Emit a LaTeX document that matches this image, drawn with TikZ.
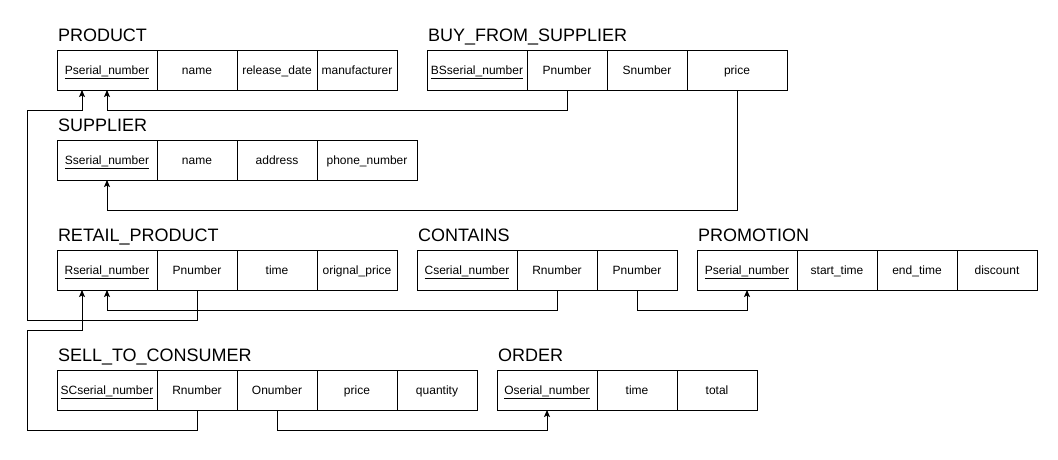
\documentclass[tikz,border=0pt]{standalone}
\usepackage{fontspec}
\setmainfont{Liberation Sans}
\usetikzlibrary{positioning}
\usetikzlibrary{calc}
\usetikzlibrary{arrows.meta}

\tikzset{
	cell/.style={draw, line width=1pt, minimum width=80pt, minimum height=40pt, inner sep=0pt, outer sep=0pt, text height=8.5pt, text depth=0.5pt, font=\fontsize{12}{14}\selectfont},
	key/.style={cell, minimum width=100pt},
	wide/.style={cell, minimum width=100pt},
	ttl/.style={anchor=base west, inner sep=0pt, outer sep=0pt, font=\fontsize{18}{22}\selectfont},
	fk/.style={line width=1pt, -{Stealth[length=7pt,width=6pt,inset=1.5pt]}}
}

\begin{document}
\begin{tikzpicture}[x=1pt,y=-1pt]
	\useasboundingbox (0,0) rectangle (1058,459);
	% PRODUCT
	\node [key] at (107,70) (1Pser) {\underline{Pserial\_number}};
	\node [cell, right=0pt of 1Pser] (1Pname) {name}; \node [cell, right=0pt of 1Pname] (1Prel) {release\_date}; \node [cell, right=0pt of 1Prel] (1Pman) {manufacturer};
	\node [ttl] at ($(1Pser.north west)+(1,-8.5)$) (1title) {PRODUCT};
	% BUY_FROM_SUPPLIER
	\node [key] at (477,70) (2Bser) {\underline{BSserial\_number}};
	\node [cell, right=0pt of 2Bser] (2Bpnum) {Pnumber}; \node [cell, right=0pt of 2Bpnum] (2Bsnum) {Snumber}; \node [wide, right=0pt of 2Bsnum] (2Bprice) {price};
	\node [ttl] at ($(2Bser.north west)+(1,-8.5)$) (2title) {BUY\_FROM\_SUPPLIER};
	% SUPPLIER
	\node [key] at (107,160) (3Sser) {\underline{Sserial\_number}};
	\node [cell, right=0pt of 3Sser] (3Sname) {name}; \node [cell, right=0pt of 3Sname] (3Saddr) {address}; \node [wide, right=0pt of 3Saddr] (3Sphone) {phone\_number};
	\node [ttl] at ($(3Sser.north west)+(1,-8.5)$) (3title) {SUPPLIER};
	% RETAIL_PRODUCT
	\node [key] at (107,270) (4Rser) {\underline{Rserial\_number}};
	\node [cell, right=0pt of 4Rser] (4Rpnum) {Pnumber}; \node [cell, right=0pt of 4Rpnum] (4Rtime) {time}; \node [cell, right=0pt of 4Rtime] (4Rorig) {orignal\_price};
	\node [ttl] at ($(4Rser.north west)+(1,-8.5)$) (4title) {RETAIL\_PRODUCT};
	% CONTAINS
	\node [key] at (467,270) (5Cser) {\underline{Cserial\_number}};
	\node [cell, right=0pt of 5Cser] (5Crnum) {Rnumber}; \node [cell, right=0pt of 5Crnum] (5Cpnum) {Pnumber};
	\node [ttl] at ($(5Cser.north west)+(1,-8.5)$) (5title) {CONTAINS};
	% PROMOTION
	\node [key] at (747,270) (6Pser) {\underline{Pserial\_number}};
	\node [cell, right=0pt of 6Pser] (6Pstart) {start\_time}; \node [cell, right=0pt of 6Pstart] (6Pend) {end\_time}; \node [cell, right=0pt of 6Pend] (6Pdisc) {discount};
	\node [ttl] at ($(6Pser.north west)+(1,-8.5)$) (6title) {PROMOTION};
	% SELL_TO_CONSUMER
	\node [key] at (107,390) (7Sser) {\underline{SCserial\_number}};
	\node [cell, right=0pt of 7Sser] (7Srnum) {Rnumber}; \node [cell, right=0pt of 7Srnum] (7Sonum) {Onumber}; \node [cell, right=0pt of 7Sonum] (7Sprice) {price}; \node [cell, right=0pt of 7Sprice] (7Squant) {quantity};
	\node [ttl] at ($(7Sser.north west)+(1,-8.5)$) (7title) {SELL\_TO\_CONSUMER};
	% ORDER
	\node [key] at (547,390) (8Oser) {\underline{Oserial\_number}};
	\node [cell, right=0pt of 8Oser] (8Otime) {time}; \node [cell, right=0pt of 8Otime] (8Ototal) {total};
	\node [ttl] at ($(8Oser.north west)+(1,-8.5)$) (8title) {ORDER};

	\draw [fk] (2Bpnum.south) -- ++(0,20) -| (1Pser.south);
	\draw [fk] (2Bprice.south) -- ++(0,120) -| (3Sser.south);
	\draw [fk] (4Rpnum.south) -- ++(0,30) -- ++(-170,0) |- ($(1Pser.south)+(-25,20)$) -- ($(1Pser.south)+(-25,0)$);
	\draw [fk] (5Crnum.south) -- ++(0,20) -| (4Rser.south);
	\draw [fk] (5Cpnum.south) -- ++(0,20) -| (6Pser.south);
	\draw [fk] (7Srnum.south) -- ++(0,20) -- ++(-170,0) |- ($(4Rser.south)+(-25,40)$) -- ($(4Rser.south)+(-25,0)$);
	\draw [fk] (7Sonum.south) -- ++(0,20) -| (8Oser.south);
\end{tikzpicture}
\end{document}
